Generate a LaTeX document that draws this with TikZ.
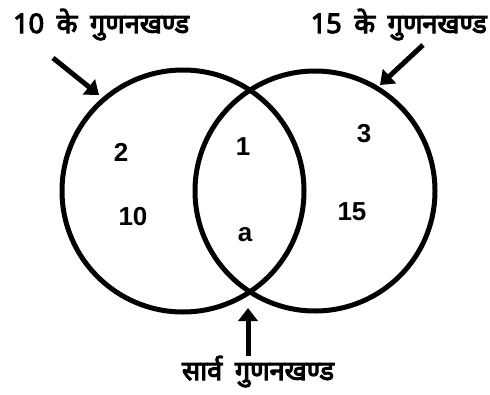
\documentclass[tikz,border=0pt]{standalone}
\usepackage{fontspec}
\setmainfont{Liberation Sans}
\newfontfamily\dev[Script=Devanagari,FakeBold=4,WordSpace=1.8]{Noto Sans}
\usetikzlibrary{arrows.meta}
\tikzset{
  ring/.style={line width=5pt},
  num/.style={font=\fontsize{26}{30}\selectfont\bfseries, inner sep=0pt},
  lbl/.style={font=\dev\fontsize{27}{30}\selectfont, inner sep=0pt},
  pointer/.style={line width=5pt, -{Triangle[width=19pt,length=13pt]}}
}
\begin{document}
\begin{tikzpicture}[x=1pt,y=-1pt]
\useasboundingbox (0,0) rectangle (490,394);
\draw[ring] (183,191) circle (121);
\draw[ring] (315,191) circle (120);
\node[num] (n2) at (121,152) {2};
\node[num] (n10) at (133,217) {10};
\node[num] (n1) at (243,147) {1};
\node[num] (na) at (245,235) {a};
\node[num] (n3) at (364,134) {3};
\node[num] (n15) at (352,212) {15};
\node[lbl, anchor=base west] (lt) at (13,33) {10 के गुणनखण्ड};
\node[lbl, anchor=base east] (rt) at (487,33) {15 के गुणनखण्ड};
\node[lbl, anchor=base] (bt) at (258,380) {सार्व गुणनखण्ड};
\coordinate (a1s) at (53,58);
\coordinate (a1e) at (99,95);
\coordinate (a2s) at (423,45);
\coordinate (a2e) at (380,85);
\coordinate (a3s) at (248,356);
\coordinate (a3e) at (248,308);
\draw[pointer] (a1s) -- (a1e);
\draw[pointer] (a2s) -- (a2e);
\draw[pointer] (a3s) -- (a3e);
\end{tikzpicture}
\end{document}
